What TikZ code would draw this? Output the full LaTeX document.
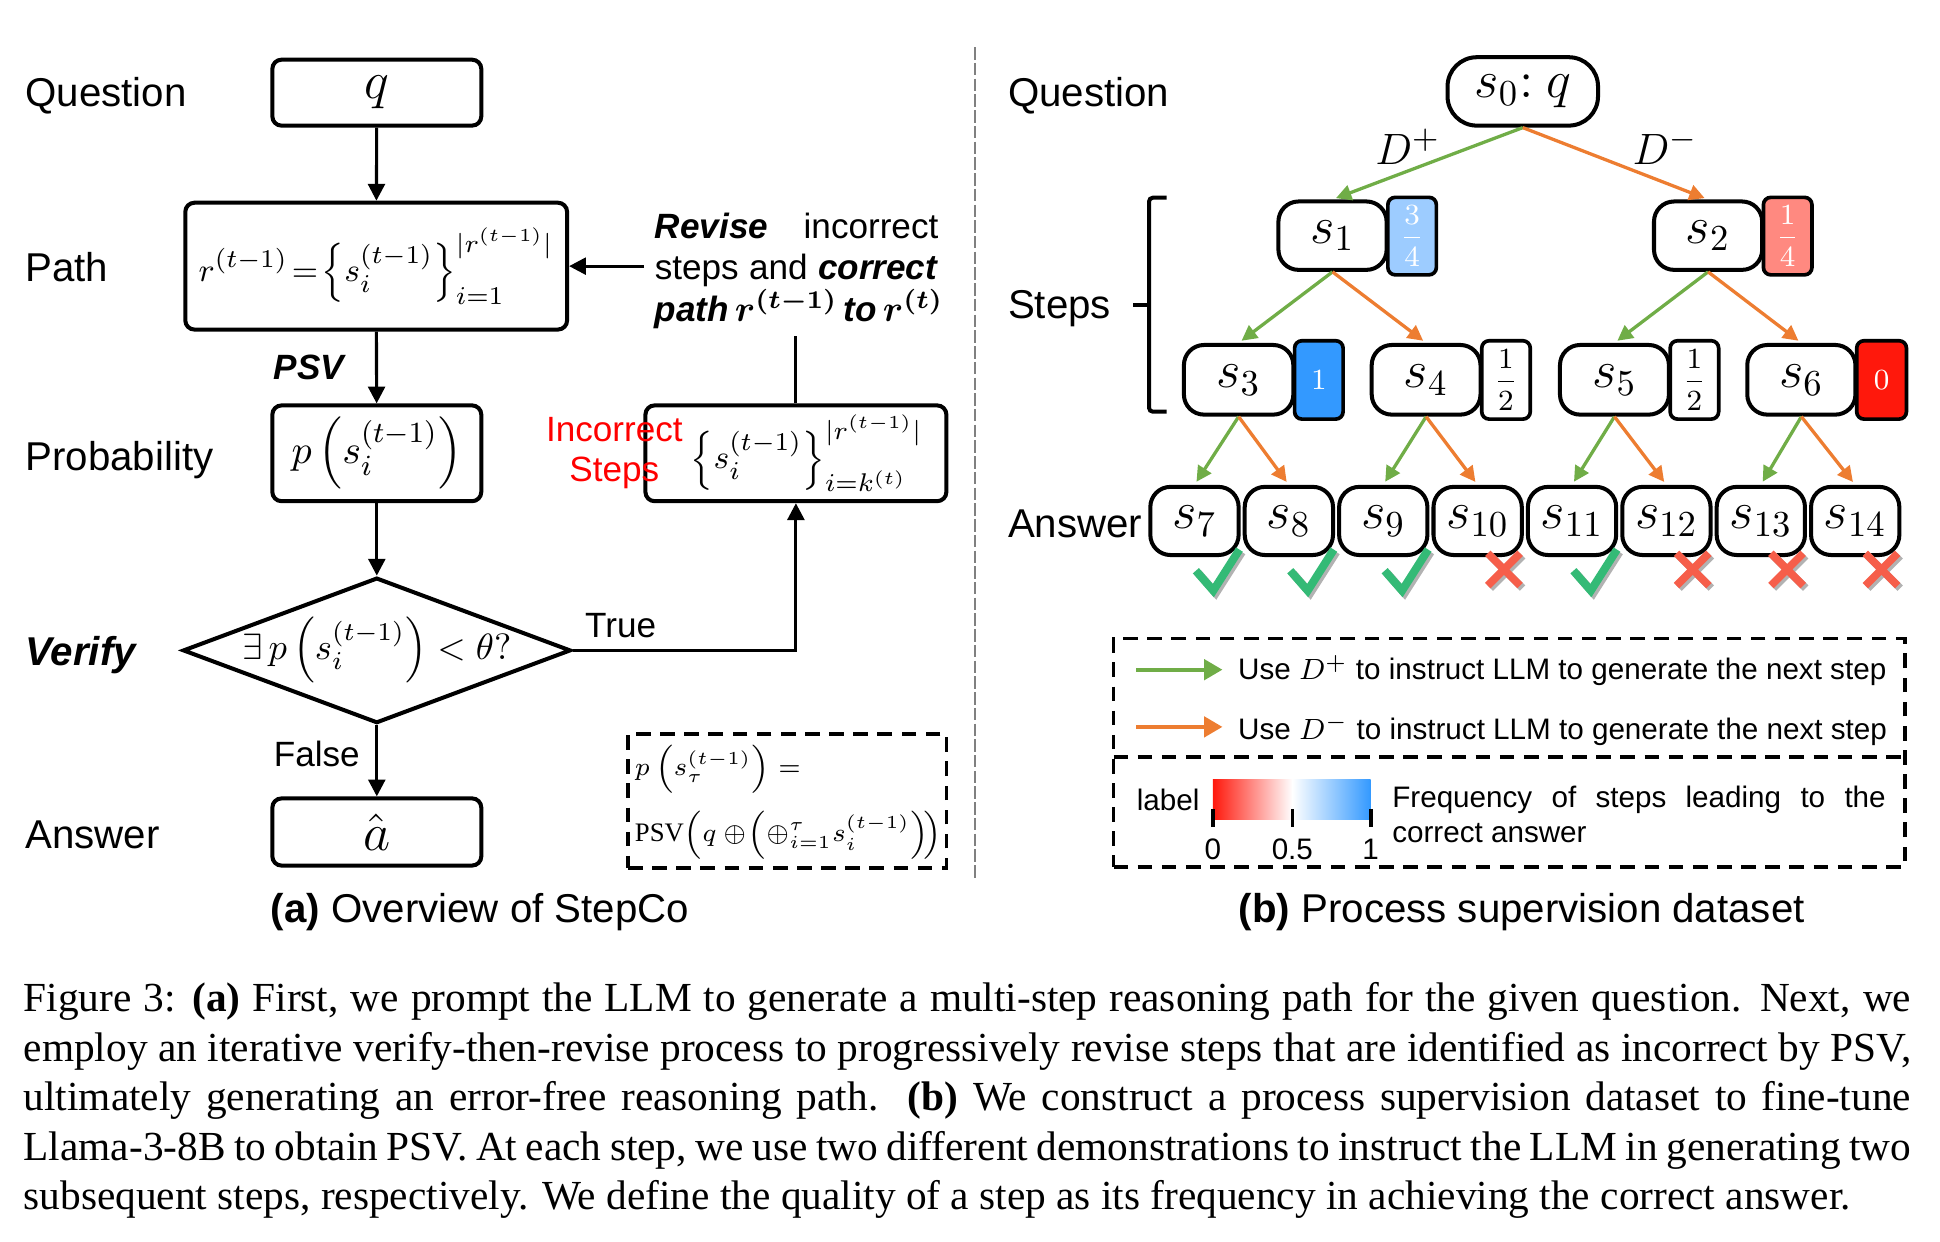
\documentclass[tikz,border=0pt]{standalone}
\usepackage{amsmath}
\usepackage{fontspec}
\setmainfont{Liberation Serif}
\setsansfont{Liberation Sans}
\usetikzlibrary{arrows.meta,shapes.geometric,fit,calc}
\definecolor{gA}{RGB}{112,173,71}
\definecolor{oA}{RGB}{237,125,49}
\definecolor{lblue}{RGB}{157,204,255}
\definecolor{lred}{RGB}{255,137,128}
\definecolor{bblue}{RGB}{51,153,255}
\definecolor{bred}{RGB}{255,24,12}
\definecolor{ckg}{RGB}{52,186,118}
\definecolor{crr}{RGB}{246,94,74}
\newcommand{\chkmark}[1]{%
 \draw[black!30, line width=2.2pt] ($(#1.south east)+(-34,13)$) -- ($(#1.south east)+(-20,29)$) -- ($(#1.south east)+(1,-4)$);
 \draw[ckg, line width=2.2pt] ($(#1.south east)+(-36,11)$) -- ($(#1.south east)+(-22,27)$) -- ($(#1.south east)+(-1,-6)$);}
\newcommand{\crsmark}[1]{%
 \draw[black!30, line width=2.1pt] ($(#1.south east)+(-27,-1)$) -- ($(#1.south east)+(-1,25)$) ($(#1.south east)+(-1,-1)$) -- ($(#1.south east)+(-27,25)$);
 \draw[crr, line width=2.1pt] ($(#1.south east)+(-29,-3)$) -- ($(#1.south east)+(-3,23)$) ($(#1.south east)+(-3,-3)$) -- ($(#1.south east)+(-29,23)$);}
\begin{document}
\begin{tikzpicture}[x=0.34pt,y=-0.34pt,
 lab/.style={font=\fontsize{11}{13}\selectfont\sffamily, anchor=base west, inner sep=0pt},
 mlab/.style={font=\fontsize{9.6}{11}\selectfont\sffamily, anchor=base west, inner sep=0pt},
 bx/.style={draw, line width=1.1pt, rounded corners=2.5pt, inner sep=0pt},
 txt/.style={inner sep=0pt},
 arr/.style={line width=0.85pt, -{Triangle[length=4.6pt,width=4.6pt]}},
 snode/.style={draw, line width=1.1pt, rounded corners=5.5pt, inner sep=0pt},
 stxt/.style={inner sep=0pt, font=\fontsize{14}{14}\selectfont},
 lbox/.style={draw, line width=1pt, rounded corners=2pt, inner sep=0pt},
 ltxt/.style={inner sep=0pt, font=\fontsize{8}{8}\selectfont},
 garr/.style={draw=gA, line width=0.9pt, -{Triangle[length=4.2pt,width=4.2pt]}, shorten >=1pt},
 oarr/.style={draw=oA, line width=0.9pt, -{Triangle[length=4.2pt,width=4.2pt]}, shorten >=1pt},
 dbox/.style={draw, line width=1pt, dash pattern=on 4pt off 2.6pt, inner sep=0pt},
 rt/.style={font=\fontsize{9.6}{11}\selectfont\sffamily, anchor=base west, inner sep=0pt, text width=77.5pt, align=left},
 lg/.style={font=\fontsize{8.1}{10}\selectfont\sffamily, inner sep=0pt},
 capl/.style={font=\fontsize{11.3}{13}\selectfont, anchor=base west, inner sep=0pt}
]
\useasboundingbox (0,0) rectangle (1560,998);

% ---------------- left panel ----------------
\node[lab] (tQ) at (20,85.5) {Question};
\node[lab] (tP) at (20,226) {Path};
\node[lab] (tPr) at (20,378.5) {Probability};
\node[lab, font=\fontsize{11}{13}\selectfont\sffamily\bfseries\itshape] (tV) at (20,535.5) {Verify};
\node[lab] (tA) at (20,682) {Answer};

\node[bx, fit={(219,48)(387,101)}] (nq) {};
\node[txt, font=\fontsize{13.5}{13.5}\selectfont] (nqt) at (nq.center) {$q$};
\node[bx, fit={(149,163)(456,265)}] (np) {};
\node[txt, font=\fontsize{9.3}{9.3}\selectfont] (npt) at (np.center) {$r^{(t-1)}\!=\!\left\{s_i^{(t-1)}\right\}_{i=1}^{|r^{(t-1)}|}$};
\node[bx, fit={(219,326)(387,403)}] (npr) {};
\node[txt, font=\fontsize{11}{11}\selectfont] (nprt) at (npr.center) {$p\left(s_i^{(t-1)}\right)$};
\node[diamond, draw, line width=1.1pt, minimum width=312*0.34pt, minimum height=117*0.34pt, inner sep=0pt] (nv) at (303,523) {};
\node[txt, font=\fontsize{10}{10}\selectfont] (nvt) at (nv.center) {$\exists\, p\left(s_i^{(t-1)}\right) < \theta?$};
\node[bx, fit={(219,642)(387,696)}] (na) {};
\node[txt, font=\fontsize{13.5}{13.5}\selectfont] (nat) at (na.center) {$\hat{a}$};
\node[bx, fit={(519,326)(761,403)}] (ni) {};
\node[txt, font=\fontsize{9.4}{9.4}\selectfont] (nit) at ([xshift=3pt]ni.center) {$\left\{s_i^{(t-1)}\right\}_{i=k^{(t)}}^{|r^{(t-1)}|}$};
\node[align=center, inner sep=0pt, text=red, font=\fontsize{9.6}{10.9}\selectfont\sffamily] (nis) at (494,364.5) {Incorrect\\Steps};

\node[rt] (rv1) at (526,191.5) {\textbf{\textit{Revise}}\hfill incorrect};
\node[rt] (rv2) at (526,225) {steps\hfill and\hfill \textbf{\textit{correct}}};
\node[font=\fontsize{9.6}{11}\selectfont\sffamily, anchor=base west, inner sep=0pt] (rv3) at (526,258.5) {\textbf{\textit{path\,$\boldsymbol{r^{(t-1)}}$\,to\,$\boldsymbol{r^{(t)}}$}}};

\node[mlab, font=\fontsize{9.6}{11}\selectfont\sffamily\bfseries\itshape] (tpsv) at (219.6,305.3) {PSV};
\node[mlab] (ttrue) at (470,513) {True};
\node[mlab] (tfalse) at (219.6,616.3) {False};

\draw[arr] (nq) -- (np);
\draw[arr] (np) -- (npr);
\draw[arr] (npr) -- (nv);
\draw[arr] (nv) -- (na);
\draw[arr] (nv.east) -| (ni.south);
\coordinate (revtop) at (640,270);
\draw[line width=0.85pt] (ni.north) -- (revtop);
\coordinate (revl) at (518,214);
\draw[arr] (revl) -- (np.east);

\node[dbox, fit={(505,590)(761,698)}] (nf) {};
\node[anchor=west, inner sep=0pt, align=left, font=\fontsize{7.3}{14}\selectfont] (nft) at (510,645) {$p\left(s_\tau^{(t-1)}\right)=$\\[4pt] $\mathrm{PSV}\!\left(q\oplus\!\left(\oplus_{i=1}^{\tau}s_i^{(t-1)}\right)\!\right)$};

\node[anchor=base, inner sep=0pt, font=\fontsize{11}{13}\selectfont\sffamily] (capa) at (386,741.9) {\textbf{(a)} Overview of StepCo};

% divider
\draw[black!50, line width=0.75pt, dash pattern=on 3.4pt off 0.9pt] (784,38) -- (784,708);

% ---------------- right panel ----------------
\node[lab] (rQ) at (810,85.5) {Question};
\node[lab] (rS) at (810,256.5) {Steps};
\node[lab] (rA) at (810,432) {Answer};

\node[snode, rounded corners=8pt, fit={(1164,46)(1285,101)}] (s0) {};
\node[stxt] (t0) at (s0.center) {$s_0{:}\ q$};
\node[snode, fit={(1028,162)(1115,217)}] (s1) {};
\node[stxt] (t1) at (s1.center) {$s_1$};
\node[lbox, fill=lblue, fit={(1116,158.7)(1155,221)}] (l1) {};
\node[ltxt, text=white] (l1t) at (l1.center) {$\dfrac{3}{4}$};
\node[snode, fit={(1330,162)(1417,217)}] (s2) {};
\node[stxt] (t2) at (s2.center) {$s_2$};
\node[lbox, fill=lred, fit={(1418,158.7)(1457,221)}] (l2) {};
\node[ltxt, text=white] (l2t) at (l2.center) {$\dfrac{1}{4}$};

\node[snode, fit={(952,277.4)(1040,333.4)}] (s3) {};
\node[stxt] (t3) at (s3.center) {$s_3$};
\node[lbox, fill=bblue, fit={(1041,274)(1080,337)}] (l3) {};
\node[ltxt, text=white, font=\fontsize{8.5}{8.5}\selectfont] (l3t) at (l3.center) {$1$};
\node[snode, fit={(1103,277.4)(1190.5,333.4)}] (s4) {};
\node[stxt] (t4) at (s4.center) {$s_4$};
\node[lbox, fill=white, fit={(1191.5,274)(1230.5,337)}] (l4) {};
\node[ltxt] (l4t) at (l4.center) {$\dfrac{1}{2}$};
\node[snode, fit={(1254.4,277.4)(1342,333.4)}] (s5) {};
\node[stxt] (t5) at (s5.center) {$s_5$};
\node[lbox, fill=white, fit={(1343,274)(1382,337)}] (l5) {};
\node[ltxt] (l5t) at (l5.center) {$\dfrac{1}{2}$};
\node[snode, fit={(1405,277.4)(1492,333.4)}] (s6) {};
\node[stxt] (t6) at (s6.center) {$s_6$};
\node[lbox, fill=bred, fit={(1493,274)(1533,337)}] (l6) {};
\node[ltxt, text=white, font=\fontsize{8.5}{8.5}\selectfont] (l6t) at (l6.center) {$0$};

\foreach \k in {7,...,14}{
  \pgfmathsetmacro\L{925+75.9*(\k-7)}
  \node[snode, fit={(\L,391.5)(\L+71,446.3)}] (s\k) {};
  \node[stxt] (t\k) at (s\k.center) {$s_{\k}$};
}

\node[inner sep=0pt, font=\fontsize{12.5}{12.5}\selectfont] (dp) at (1132,118) {$D^{+}$};
\node[inner sep=0pt, font=\fontsize{12.5}{12.5}\selectfont] (dm) at (1339,118) {$D^{-}$};

\draw[garr] (s0.south) -- (s1.north);
\draw[oarr] (s0.south) -- (s2.north);
\draw[garr] (s1.south) -- (s3.north);
\draw[oarr] (s1.south) -- (s4.north);
\draw[garr] (s2.south) -- (s5.north);
\draw[oarr] (s2.south) -- (s6.north);
\draw[garr] (s3.south) -- (s7.north);
\draw[oarr] (s3.south) -- (s8.north);
\draw[garr] (s4.south) -- (s9.north);
\draw[oarr] (s4.south) -- (s10.north);
\draw[garr] (s5.south) -- (s11.north);
\draw[oarr] (s5.south) -- (s12.north);
\draw[garr] (s6.south) -- (s13.north);
\draw[oarr] (s6.south) -- (s14.north);

% brace
\draw[line width=1.1pt, rounded corners=1pt] (938,159) -- (924,159) -- (924,331) -- (938,331);
\draw[line width=1.1pt] (924,245) -- (911,245);

\chkmark{s7}
\chkmark{s8}
\chkmark{s9}
\crsmark{s10}
\chkmark{s11}
\crsmark{s12}
\crsmark{s13}
\crsmark{s14}

% legend
\node[dbox, fit={(895.4,513.3)(1531.6,696.9)}] (leg) {};
\coordinate (dvl) at (895.4,608.5);
\coordinate (dvr) at (1531.6,608.5);
\draw[line width=1pt, dash pattern=on 4pt off 2.6pt] (dvl) -- (dvr);
\coordinate (g1) at (913.5,538.5);
\coordinate (g2) at (983,538.5);
\draw[draw=gA, line width=1.1pt, -{Triangle[length=5pt,width=5.5pt]}] (g1) -- (g2);
\coordinate (o1) at (913.5,584.5);
\coordinate (o2) at (983,584.5);
\draw[draw=oA, line width=1.1pt, -{Triangle[length=5pt,width=5.5pt]}] (o1) -- (o2);
\node[lg, anchor=west] (lg1) at (995,539) {Use $D^{+}$ to instruct LLM to generate the next step};
\node[lg, anchor=west] (lg2) at (995,587) {Use $D^{-}$ to instruct LLM to generate the next step};
\node[lg, anchor=base west] (lbl) at (913.5,652) {label};
\shade[left color=bred, right color=white] (975.2,627.2) rectangle (1039.2,658.6);
\shade[left color=white, right color=bblue] (1039.2,627.2) rectangle (1102.2,658.6);
\draw[line width=1pt] (975.2,650.8) -- (975.2,665.3);
\draw[line width=1pt] (1039.2,650.8) -- (1039.2,665.3);
\draw[line width=1pt] (1102.2,650.8) -- (1102.2,665.3);
\node[lg, anchor=base] (n0) at (975.2,691) {0};
\node[lg, anchor=base] (n05) at (1039.2,691) {0.5};
\node[lg, anchor=base] (n1) at (1102.2,691) {1};
\node[lg, anchor=base west, text width=134.9pt, align=left] (fr1) at (1119,649.4) {Frequency\hfill of\hfill steps\hfill leading\hfill to\hfill the};
\node[lg, anchor=base west] (fr2) at (1119,677.6) {correct answer};

\node[anchor=base, inner sep=0pt, font=\fontsize{11}{13}\selectfont\sffamily] (capb) at (1223.7,741.9) {\textbf{(b)} Process supervision dataset};

% figure caption
\node[capl] (c1) at (18.5,813.5) {\makebox[516pt][s]{Figure 3: \textbf{(a)} First, we prompt the LLM to generate a multi-step reasoning path for the given question. Next, we}};
\node[capl] (c2) at (18.5,853.3) {\makebox[516pt][s]{employ an iterative verify-then-revise process to progressively revise steps that are identified as incorrect by PSV,}};
\node[capl] (c3) at (18.5,893.1) {\makebox[516pt][s]{ultimately generating an error-free reasoning path.\ \ \textbf{(b)} We construct a process supervision dataset to fine-tune}};
\node[capl] (c4) at (18.5,932.9) {\makebox[516pt][s]{Llama-3-8B to obtain PSV. At each step, we use two different demonstrations to instruct the LLM in generating two}};
\node[capl] (c5) at (18.5,972.7) {subsequent steps, respectively. We define the quality of a step as its frequency in achieving the correct answer.};
\end{tikzpicture}
\end{document}
